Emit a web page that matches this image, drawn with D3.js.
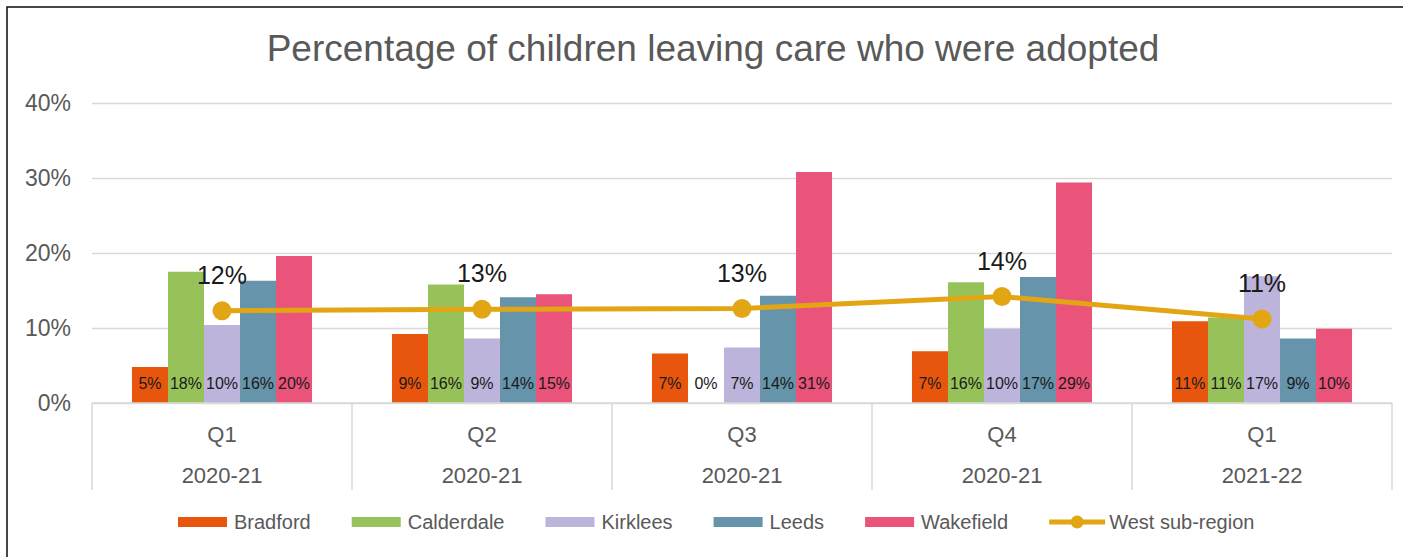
<!DOCTYPE html>
<html>
<head>
<meta charset="utf-8">
<script src="https://cdn.jsdelivr.net/npm/d3@7"></script>
<style>
  html, body { margin: 0; padding: 0; background: #fff; }
  svg { display: block; font-family: "Liberation Sans", Arial, sans-serif; }
</style>
</head>
<body>
<svg id="chart" width="1403" height="557"></svg>
<script>
const title = "Percentage of children leaving care who were adopted";
const quarters = ["Q1", "Q2", "Q3", "Q4", "Q1"];
const years = ["2020-21", "2020-21", "2020-21", "2020-21", "2021-22"];
const seriesNames = ["Bradford", "Calderdale", "Kirklees", "Leeds", "Wakefield"];
const bradford   = [4.8, 9.2, 6.6, 6.9, 10.9];
const calderdale = [17.5, 15.8, 0, 16.1, 11.4];
const kirklees   = [10.4, 8.6, 7.4, 9.9, 16.9];
const leeds      = [16.3, 14.1, 14.3, 16.8, 8.6];
const wakefield  = [19.6, 14.5, 30.8, 29.4, 9.9];
const westSubRegion = [12.3, 12.5, 12.6, 14.2, 11.2];
const lineName = "West sub-region";
const yTicks = [0, 10, 20, 30, 40];

(function () {
const colors = {
  Bradford: "#E8560E",
  Calderdale: "#97C25A",
  Kirklees: "#BDB4DB",
  Leeds: "#6594AB",
  Wakefield: "#EA537A"
};
const lineColor = "#E2A614";
const textGrey = "#595959";
const gridColor = "#D9D9D9";

const seriesValues = [bradford, calderdale, kirklees, leeds, wakefield];
const cats = quarters.map((q, i) => i);

const svg = d3.select("#chart");
const pLeft = 92, pRight = 1392, pTop = 103, pBottom = 403;

// border (top & left visible)
svg.append("rect").attr("x", 7).attr("y", 7).attr("width", 1500).attr("height", 700)
  .attr("fill", "none").attr("stroke", "#1a1a1a").attr("stroke-width", 1.6);

svg.append("text").attr("x", 713).attr("y", 61).attr("text-anchor", "middle")
  .attr("font-size", 37).attr("fill", textGrey).text(title);

const x0 = d3.scaleBand().domain(cats).range([pLeft, pRight]).padding(0);
const x1 = d3.scaleBand().domain(seriesNames).range([0, x0.bandwidth()]).paddingInner(0).paddingOuter(1.11);
const y = d3.scaleLinear().domain([0, 40]).range([pBottom, pTop]);

// gridlines
const yAxis = d3.axisLeft(y).tickValues(yTicks).tickSize(-(pRight - pLeft)).tickFormat(d => d + "%");
const gy = svg.append("g").attr("transform", `translate(${pLeft},0)`).call(yAxis);
gy.select(".domain").remove();
gy.selectAll(".tick line").attr("stroke", gridColor).attr("stroke-width", 1.5);
gy.selectAll(".tick text").attr("x", -21).attr("font-size", 23).attr("fill", textGrey)
  .attr("font-family", "Liberation Sans, Arial, sans-serif");

// bars
const groups = svg.append("g").selectAll("g").data(cats).join("g")
  .attr("transform", d => `translate(${x0(d)},0)`);
groups.selectAll("rect").data(i => seriesNames.map((s, k) => ({ s, v: seriesValues[k][i] })))
  .join("rect")
  .attr("x", d => x1(d.s)).attr("width", x1.bandwidth())
  .attr("y", d => y(d.v)).attr("height", d => y(0) - y(d.v))
  .attr("fill", d => colors[d.s]);
groups.selectAll("text").data(i => seriesNames.map((s, k) => ({ s, v: seriesValues[k][i] })))
  .join("text")
  .attr("x", d => x1(d.s) + x1.bandwidth() / 2).attr("y", pBottom - 14)
  .attr("text-anchor", "middle").attr("font-size", 16).attr("fill", "#1a1a1a")
  .text(d => Math.round(d.v) + "%");

// x axis box
const gx = svg.append("g");
gx.append("line").attr("x1", pLeft).attr("x2", pRight).attr("y1", pBottom).attr("y2", pBottom)
  .attr("stroke", gridColor).attr("stroke-width", 1.5);
const bounds = cats.map(c => x0(c)).concat([pRight]);
gx.selectAll("line.v").data(bounds).join("line").attr("class", "v")
  .attr("x1", d => d).attr("x2", d => d).attr("y1", pBottom).attr("y2", 490)
  .attr("stroke", gridColor).attr("stroke-width", 1.5);
gx.selectAll("text.q").data(cats).join("text").attr("class", "q")
  .attr("x", d => x0(d) + x0.bandwidth() / 2).attr("y", 442)
  .attr("text-anchor", "middle").attr("font-size", 22).attr("fill", textGrey)
  .text(d => quarters[d]);
gx.selectAll("text.yr").data(cats).join("text").attr("class", "yr")
  .attr("x", d => x0(d) + x0.bandwidth() / 2).attr("y", 483)
  .attr("text-anchor", "middle").attr("font-size", 22).attr("fill", textGrey)
  .text(d => years[d]);

// line
const cx = d => x0(d) + x0.bandwidth() / 2;
svg.append("path").datum(cats)
  .attr("d", d3.line().x(cx).y(d => y(westSubRegion[d])))
  .attr("fill", "none").attr("stroke", lineColor).attr("stroke-width", 5);
svg.append("g").selectAll("circle").data(cats).join("circle")
  .attr("cx", cx).attr("cy", d => y(westSubRegion[d])).attr("r", 9.5).attr("fill", lineColor);
svg.append("g").selectAll("text").data(cats).join("text")
  .attr("x", cx).attr("y", d => y(westSubRegion[d]) - 27)
  .attr("text-anchor", "middle").attr("font-size", 25).attr("fill", "#1a1a1a")
  .text(d => Math.round(westSubRegion[d]) + "%");

// legend
const lg = svg.append("g");
let lx = 178;
const ly = 522;
seriesNames.forEach(s => {
  lg.append("rect").attr("x", lx).attr("y", ly - 5).attr("width", 49).attr("height", 10).attr("fill", colors[s]);
  const t = lg.append("text").attr("x", lx + 56).attr("y", ly).attr("dy", "0.35em")
    .attr("font-size", 20).attr("fill", textGrey).text(s);
  lx += 56 + t.node().getComputedTextLength() + 41;
});
lg.append("line").attr("x1", lx).attr("x2", lx + 56).attr("y1", ly).attr("y2", ly)
  .attr("stroke", lineColor).attr("stroke-width", 5);
lg.append("circle").attr("cx", lx + 28).attr("cy", ly).attr("r", 6.5).attr("fill", lineColor);
lg.append("text").attr("x", lx + 60).attr("y", ly).attr("dy", "0.35em")
  .attr("font-size", 20).attr("fill", textGrey).text(lineName);
})();
</script>
</body>
</html>
